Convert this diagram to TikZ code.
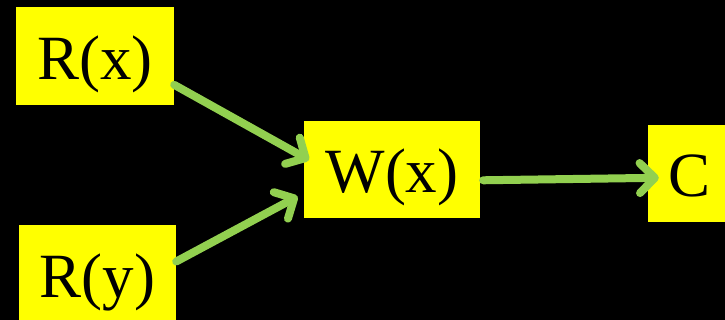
\documentclass[tikz,border=0pt]{standalone}
\usepackage{fontspec}
\setmainfont{Liberation Serif}
\usetikzlibrary{arrows.meta,positioning}
\definecolor{marker}{HTML}{FFFF00}
\definecolor{leaf}{HTML}{92D050}

\begin{document}
\begin{tikzpicture}[x=1pt,y=-1pt,
  box/.style={fill=marker,inner sep=0pt,text height=47pt,text depth=0pt,font=\fontsize{63}{66}\selectfont},
  link/.style={leaf,line width=8pt,line cap=round,line join=round,-{Straight Barb[length=15pt,width=30pt,round]}}]
\fill[black] (0,0) rectangle (725,320);
\clip (0,0) rectangle (725,320);
\node[box,minimum width=158pt,minimum height=98pt] (rx) at (95,56) {R(x)};
\node[box,minimum width=157pt,minimum height=98pt] (ry) at (97.5,274) {R(y)};
\node[box,minimum width=176pt,minimum height=97pt] (wx) at (392,169.5) {W(x)};
\node[box,minimum width=84pt,minimum height=97pt] (c) at (690,173.5) {C};
\draw[link,shorten >=-6pt] (rx.-20) -- (wx.172);
\draw[link,shorten >=7pt] (ry.9) -- (wx.195);
\draw[link,shorten <=3pt,shorten >=-11pt] (wx.-7) -- (c.186);
\end{tikzpicture}
\end{document}
